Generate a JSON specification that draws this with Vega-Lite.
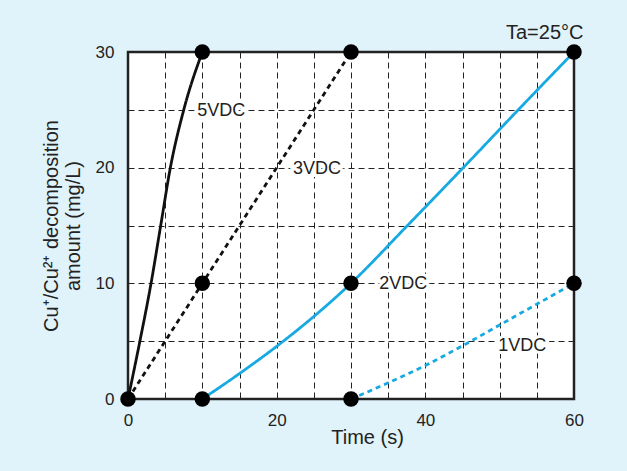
{
  "$schema": "https://vega.github.io/schema/vega-lite/v6.json",
  "width": 446,
  "height": 347,
  "autosize": {"type": "none"},
  "padding": {"left": 128, "top": 52, "right": 53, "bottom": 72},
  "background": "#e0f2fa",
  "config": {
    "font": "Liberation Sans",
    "view": {"fill": "white", "stroke": "#222", "strokeWidth": 2.5}
  },
  "title": {
    "text": "Ta=25°C",
    "anchor": "end",
    "fontSize": 20,
    "fontWeight": "normal",
    "color": "#222",
    "font": "Liberation Sans",
    "offset": 0
  },
  "datasets": {
    "curves": [
      {"series": "5VDC", "t": 0, "v": 0},
      {"series": "5VDC", "t": 1.6, "v": 5},
      {"series": "5VDC", "t": 3.1, "v": 10},
      {"series": "5VDC", "t": 4.4, "v": 15},
      {"series": "5VDC", "t": 5.7, "v": 20},
      {"series": "5VDC", "t": 7.5, "v": 25},
      {"series": "5VDC", "t": 10, "v": 30},
      {"series": "3VDC", "t": 0, "v": 0},
      {"series": "3VDC", "t": 10, "v": 10},
      {"series": "3VDC", "t": 20, "v": 20},
      {"series": "3VDC", "t": 30, "v": 30},
      {"series": "2VDC", "t": 10, "v": 0},
      {"series": "2VDC", "t": 15, "v": 2.2},
      {"series": "2VDC", "t": 20.9, "v": 5},
      {"series": "2VDC", "t": 30, "v": 10},
      {"series": "2VDC", "t": 37.6, "v": 15},
      {"series": "2VDC", "t": 45.1, "v": 20},
      {"series": "2VDC", "t": 52.5, "v": 25},
      {"series": "2VDC", "t": 60, "v": 30},
      {"series": "1VDC", "t": 30, "v": 0},
      {"series": "1VDC", "t": 35, "v": 1.4},
      {"series": "1VDC", "t": 40, "v": 2.9},
      {"series": "1VDC", "t": 45, "v": 4.6},
      {"series": "1VDC", "t": 50, "v": 6.4},
      {"series": "1VDC", "t": 55, "v": 8.2},
      {"series": "1VDC", "t": 60, "v": 10}
    ],
    "dots": [
      {"t": 0, "v": 0},
      {"t": 10, "v": 30},
      {"t": 30, "v": 30},
      {"t": 10, "v": 10},
      {"t": 60, "v": 30},
      {"t": 10, "v": 0},
      {"t": 30, "v": 10},
      {"t": 30, "v": 0},
      {"t": 60, "v": 10}
    ],
    "labels": [
      {"label": "5VDC", "t": 9.3, "v": 24.9},
      {"label": "3VDC", "t": 22.2, "v": 19.9},
      {"label": "2VDC", "t": 33.8, "v": 9.9},
      {"label": "1VDC", "t": 49.8, "v": 4.6}
    ]
  },
  "encoding": {
    "x": {
      "field": "t",
      "type": "quantitative",
      "scale": {"domain": [0, 60], "nice": false},
      "axis": {
        "values": [0, 5, 10, 15, 20, 25, 30, 35, 40, 45, 50, 55, 60],
        "labelExpr": "datum.value % 20 == 0 ? datum.label : ''",
        "labelFlush": false,
        "title": "Time (s)",
        "titleFontSize": 20,
        "titleFontWeight": "normal",
        "titleColor": "#222",
        "titleX": 239,
        "titlePadding": -1,
        "labelFontSize": 17,
        "labelColor": "#222",
        "labelPadding": 13,
        "ticks": false,
        "domain": false,
        "grid": true,
        "gridColor": "#222",
        "gridDash": [6, 4],
        "gridWidth": 1,
        "gridOpacity": 1
      }
    },
    "y": {
      "field": "v",
      "type": "quantitative",
      "scale": {"domain": [0, 30], "nice": false},
      "axis": {
        "values": [0, 5, 10, 15, 20, 25, 30],
        "labelExpr": "datum.value % 10 == 0 ? datum.label : ''",
        "labelFlush": false,
        "title": ["Cu⁺/Cu²⁺ decomposition", "amount (mg/L)"],
        "titleFontSize": 20,
        "titleFontWeight": "normal",
        "titleColor": "#222",
        "titlePadding": 12,
        "labelFontSize": 17,
        "labelColor": "#222",
        "labelPadding": 14,
        "ticks": false,
        "domain": false,
        "grid": true,
        "gridColor": "#222",
        "gridDash": [6, 4],
        "gridWidth": 1,
        "gridOpacity": 1
      }
    }
  },
  "layer": [
    {
      "data": {"name": "labels"},
      "mark": {"type": "text", "align": "left", "baseline": "middle", "fontSize": 18, "stroke": "white", "strokeWidth": 6, "fill": "white"},
      "encoding": {"text": {"field": "label"}}
    },
    {
      "data": {"name": "labels"},
      "mark": {"type": "text", "align": "left", "baseline": "middle", "fontSize": 18, "fill": "#222"},
      "encoding": {"text": {"field": "label"}}
    },
    {
      "data": {"name": "curves"},
      "mark": {"type": "line", "interpolate": "monotone", "strokeWidth": 2.8},
      "encoding": {
        "detail": {"field": "series"},
        "color": {
          "field": "series",
          "type": "nominal",
          "scale": {"domain": ["5VDC", "3VDC", "2VDC", "1VDC"], "range": ["#111111", "#111111", "#17a9e1", "#17a9e1"]},
          "legend": null
        },
        "strokeDash": {
          "field": "series",
          "type": "nominal",
          "scale": {"domain": ["5VDC", "3VDC", "2VDC", "1VDC"], "range": [[1, 0], [5, 4], [1, 0], [5, 4]]},
          "legend": null
        }
      }
    },
    {
      "data": {"name": "dots"},
      "mark": {"type": "point", "filled": true, "shape": "circle", "size": 240, "color": "#000", "opacity": 1}
    }
  ]
}
